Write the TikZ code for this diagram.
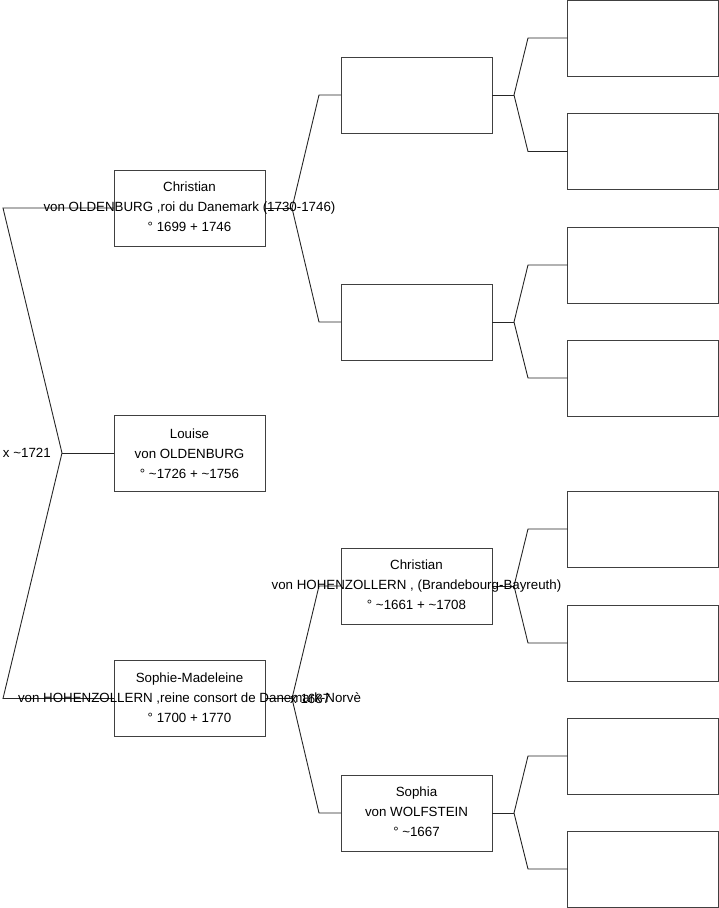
\documentclass[tikz,border=0pt]{standalone}
\usepackage{fontspec}
\setmainfont{Liberation Sans}
\begin{document}
\begin{tikzpicture}[x=1pt,y=-1pt,
  box/.style={draw=black!75,line width=0.9pt,minimum width=151pt,minimum height=76pt,inner sep=0pt,outer sep=0pt},
  txt/.style={align=center,inner sep=0pt,font=\fontsize{13.33}{20}\selectfont},
  lnk/.style={draw=black!85,line width=0.9pt}]
\useasboundingbox (0,0) rectangle (719,908);
% generation 1
\node[box] (g1a) at (189.5,208) {};
\node[box] (g1b) at (189.5,453) {};
\node[box] (g1c) at (189.5,698.5) {};
% generation 2
\node[box] (g2a) at (416.5,95) {};
\node[box] (g2b) at (416.5,322) {};
\node[box] (g2c) at (416.5,586) {};
\node[box] (g2d) at (416.5,813) {};
% generation 3
\node[box] (g3a) at (643,38) {};
\node[box] (g3b) at (643,151.5) {};
\node[box] (g3c) at (643,265) {};
\node[box] (g3d) at (643,378) {};
\node[box] (g3e) at (643,529) {};
\node[box] (g3f) at (643,643) {};
\node[box] (g3g) at (643,756) {};
\node[box] (g3h) at (643,869) {};
% fork coordinates
\coordinate (f0) at (62,453);
\coordinate (b0a) at (3,208);
\coordinate (b0c) at (3,698.5);
\coordinate (f1a) at (292,208);
\coordinate (f1c) at (292,698.5);
\coordinate (b1a) at (319,95);
\coordinate (b1b) at (319,322);
\coordinate (b1c) at (319,586);
\coordinate (b1d) at (319,813);
\coordinate (f2a) at (514,95);
\coordinate (f2b) at (514,322);
\coordinate (f2c) at (514,586);
\coordinate (f2d) at (514,813);
\coordinate (b2a) at (528,38);
\coordinate (b2b) at (528,151.5);
\coordinate (b2c) at (528,265);
\coordinate (b2d) at (528,378);
\coordinate (b2e) at (528,529);
\coordinate (b2f) at (528,643);
\coordinate (b2g) at (528,756);
\coordinate (b2h) at (528,869);
% connectors
\draw[lnk] (g1b.west) -- (f0);
\draw[lnk] (f0) -- (b0a) -- (g1a.west);
\draw[lnk] (f0) -- (b0c) -- (g1c.west);
\draw[lnk] (g1a.east) -- (f1a);
\draw[lnk] (f1a) -- (b1a) -- (g2a.west);
\draw[lnk] (f1a) -- (b1b) -- (g2b.west);
\draw[lnk] (g1c.east) -- (f1c);
\draw[lnk] (f1c) -- (b1c) -- (g2c.west);
\draw[lnk] (f1c) -- (b1d) -- (g2d.west);
\draw[lnk] (g2a.east) -- (f2a);
\draw[lnk] (f2a) -- (b2a) -- (g3a.west);
\draw[lnk] (f2a) -- (b2b) -- (g3b.west);
\draw[lnk] (g2b.east) -- (f2b);
\draw[lnk] (f2b) -- (b2c) -- (g3c.west);
\draw[lnk] (f2b) -- (b2d) -- (g3d.west);
\draw[lnk] (g2c.east) -- (f2c);
\draw[lnk] (f2c) -- (b2e) -- (g3e.west);
\draw[lnk] (f2c) -- (b2f) -- (g3f.west);
\draw[lnk] (g2d.east) -- (f2d);
\draw[lnk] (f2d) -- (b2g) -- (g3g.west);
\draw[lnk] (f2d) -- (b2h) -- (g3h.west);
% texts
\node[txt] (t1a) at ([yshift=1pt]g1a.center) {Christian\\von OLDENBURG ,roi du Danemark (1730-1746)\\° 1699 + 1746};
\node[txt] (t1b) at ([yshift=-1pt]g1b.center) {Louise\\von OLDENBURG\\° \textasciitilde1726 + \textasciitilde1756};
\node[txt] (t1c) at ([yshift=1pt]g1c.center) {Sophie-Madeleine\\von HOHENZOLLERN ,reine consort de Danemark-Norvè\\° 1700 + 1770};
\node[txt] (t2c) at ([yshift=1pt]g2c.center) {Christian\\von HOHENZOLLERN , (Brandebourg-Bayreuth)\\° \textasciitilde1661 + \textasciitilde1708};
\node[txt] (t2d) at ([yshift=1pt]g2d.center) {Sophia\\von WOLFSTEIN\\° \textasciitilde1667};
\node[txt,anchor=east] (m0) at (51,453) {x \textasciitilde1721};
\node[txt,anchor=west] (m1) at (290,698.5) {x 1687};
\end{tikzpicture}
\end{document}
